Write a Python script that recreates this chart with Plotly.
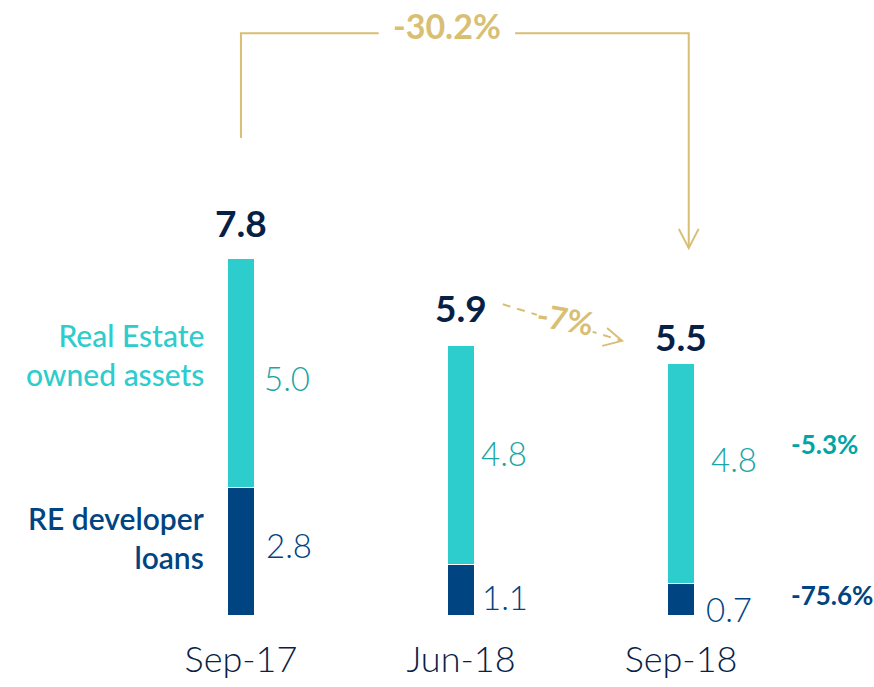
import plotly.graph_objects as go

# Data (EUR bn)
periods = ["Sep-17", "Jun-18", "Sep-18"]
developer_loans = [2.8, 1.1, 0.7]
owned_assets = [5.0, 4.8, 4.8]
totals = [7.8, 5.9, 5.5]
change_total_yoy = "-30.2%"
change_total_qoq = "-7%"
change_owned_yoy = "-5.3%"
change_loans_yoy = "-75.6%"
owned_name = "Real Estate<br>owned assets"
loans_name = "RE developer<br>loans"

NAVY = "#004481"
TEAL = "#2dcccd"
TEAL_TEXT = "#1aa6a6"
DARK = "#072146"
GOLD = "#d8bf73"
FONT = "Lato"

fig = go.Figure()
fig.add_trace(go.Bar(x=periods, y=developer_loans, name="RE developer loans",
                     marker=dict(color=NAVY, line=dict(color="white", width=1)),
                     width=0.125))
fig.add_trace(go.Bar(x=periods, y=owned_assets, name="Real Estate owned assets",
                     marker=dict(color=TEAL, line=dict(color="white", width=1)),
                     width=0.125))

ann = []

# totals above each bar
total_shift = [12, 13, 3]
for i, t in enumerate(totals):
    ann.append(dict(x=i, y=t, text=f"{t:.1f}", showarrow=False, yanchor="bottom",
                    yshift=total_shift[i],
                    font=dict(family=FONT, size=37, color=DARK, weight=700)))

# segment values (loans, assets)
lbl_x = [[23, 21], [19, 18], [23, 28]]
lbl_y = [[6, -5], [-7, 2], [-10, 14]]
for i in range(len(periods)):
    lo, hi = developer_loans[i], owned_assets[i]
    ann.append(dict(x=i, y=lo / 2, text=f"{lo:.1f}", showarrow=False, xanchor="left",
                    xshift=lbl_x[i][0], yshift=lbl_y[i][0],
                    font=dict(family=FONT, size=33, color=NAVY, weight=300)))
    ann.append(dict(x=i, y=lo + hi / 2, text=f"{hi:.1f}", showarrow=False, xanchor="left",
                    xshift=lbl_x[i][1], yshift=lbl_y[i][1],
                    font=dict(family=FONT, size=33, color=TEAL_TEXT, weight=300)))

# series names to the left of the first bar
ann.append(dict(x=0, y=developer_loans[0] + owned_assets[0] / 2, text=owned_name,
                showarrow=False, xanchor="right", align="right", xshift=-35, yshift=18,
                font=dict(family=FONT, size=30, color=TEAL, weight=500)))
ann.append(dict(x=0, y=developer_loans[0] / 2, text=loans_name,
                showarrow=False, xanchor="right", align="right", xshift=-35, yshift=14,
                font=dict(family=FONT, size=30, color=NAVY, weight=600)))

# year-on-year change per component
ann.append(dict(x=2, y=developer_loans[2] + owned_assets[2] / 2, text=change_owned_yoy,
                showarrow=False, xanchor="left", xshift=108, yshift=29,
                font=dict(family=FONT, size=26, color="#02a5a5", weight=700)))
ann.append(dict(x=2, y=developer_loans[2] / 2, text=change_loans_yoy,
                showarrow=False, xanchor="left", xshift=108, yshift=4,
                font=dict(family=FONT, size=26, color=NAVY, weight=700)))

shapes = []
line = dict(color=GOLD, width=2)

# bracket from Sep-17 to Sep-18 with the total change
top_y = 12.73
start_y = totals[0] + 2.64
tip_y = totals[2] + 2.53
lab_x = 0.936
gap = 0.31
shapes.append(dict(type="path", xref="x", yref="y", line=line,
                   path=f"M 0,{start_y} L 0,{top_y} L {lab_x - gap},{top_y}"))
shapes.append(dict(type="path", xref="x", yref="y", line=line,
                   path=f"M {lab_x + gap},{top_y} L 2.035,{top_y} L 2.035,{tip_y}"))
shapes.append(dict(type="path", xref="x", yref="y", line=line,
                   path=f"M 1.99,{tip_y + 0.42} L 2.035,{tip_y} L 2.08,{tip_y + 0.42}"))
ann.append(dict(x=lab_x, y=top_y, text=change_total_yoy, showarrow=False, yshift=8,
                font=dict(family=FONT, size=34, color=GOLD, weight=700)))

# dashed quarter-on-quarter arrow
x0, y0 = 1.19, 6.80
x1, y1 = 1.732, 6.0
shapes.append(dict(type="line", xref="x", yref="y", x0=x0, y0=y0, x1=x1, y1=y1,
                   line=dict(color=GOLD, width=2, dash="8px,7px")))
shapes.append(dict(type="path", xref="x", yref="y", line=line,
                   path=f"M {x1 - 0.068},{y1 + 0.28} L {x1},{y1} L {x1 - 0.09},{y1 - 0.11}"))
ann.append(dict(x=1.473, y=6.48, text=change_total_qoq, showarrow=False, textangle=10,
                bgcolor="white", borderpad=0,
                font=dict(family=FONT, size=32, color=GOLD, weight=700)))

fig.update_layout(
    barmode="stack",
    width=874, height=687,
    margin=dict(l=0, r=0, t=0, b=72),
    paper_bgcolor="white", plot_bgcolor="white",
    showlegend=False,
    annotations=ann,
    shapes=shapes,
    xaxis=dict(range=[-1.095, 2.877], showgrid=False, zeroline=False, showline=False,
               ticks="", ticklabelstandoff=20,
               tickfont=dict(family=FONT, size=36, color=DARK, weight=300)),
    yaxis=dict(range=[0, 13.46], visible=False, fixedrange=True),
)

fig.write_html("out.html")
